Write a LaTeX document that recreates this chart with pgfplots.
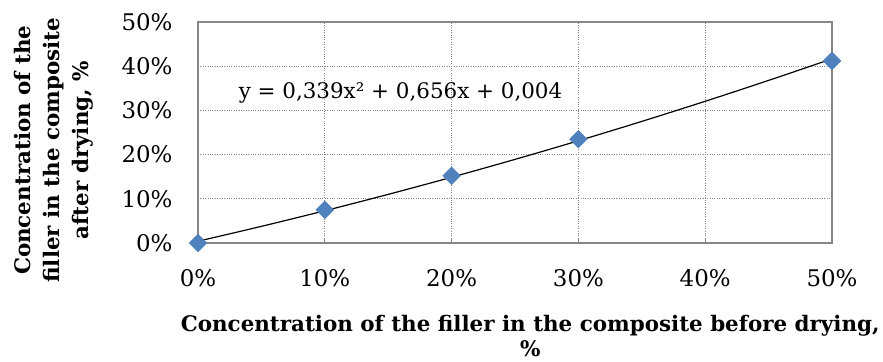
\documentclass[border=0pt]{standalone}
\usepackage{pgfplots}
\pgfplotsset{compat=1.18}
\usepackage{fontspec}
\setmainfont{DejaVu Serif}
\definecolor{mblue}{HTML}{4F81BD}
\definecolor{agray}{HTML}{868686}
\begin{document}
\begin{tikzpicture}
\useasboundingbox (-198bp,-119bp) rectangle (685bp,243bp);
\begin{axis}[
  at={(0,0)}, anchor=south west,
  scale only axis, width=634bp, height=221bp,
  xmin=0, xmax=50, ymin=0, ymax=50,
  xtick={0,10,20,30,40,50}, ytick={0,10,20,30,40,50},
  xticklabel={\pgfmathprintnumber{\tick}\%},
  yticklabel={\pgfmathprintnumber{\tick}\%},
  /pgf/number format/assume math mode=true,
  tick label style={font=\fontsize{23}{27}\selectfont},
  yticklabel style={xshift=-22bp},
  xticklabel style={yshift=-23bp},
  grid=major,
  major grid style={agray, dotted, line width=0.9pt},
  axis line style={agray, line width=1.2pt},
  tick style={agray, line width=1.2pt},
  ytick style={draw=none},
  xtick pos=bottom, ytick pos=left,
  tick align=inside,
  major tick length=5bp,
  xlabel={Concentration of the filler in the composite before drying,\\\%},
  ylabel={Concentration of the\\filler in the composite\\after drying, \%},
  xlabel style={at={(axis description cs:0.524,-0.42)}, anchor=center, align=center, font=\fontsize{21.5}{24.5}\selectfont\bfseries},
  ylabel style={at={(axis description cs:-0.227,0.42)}, anchor=center, align=center, rotate=0, font=\fontsize{21.5}{29}\selectfont\bfseries},
  clip=false,
]
\addplot[only marks, mark=square*, mark size=6.3bp, mark options={rotate=45, fill=mblue, draw=mblue}]
  coordinates {(0,0) (10,7.5) (20,15.2) (30,23.5) (50,41.2)};
\addplot[black, line width=1.2pt, smooth]
  coordinates {(0,0.40) (5,3.765) (10,7.299) (15,11.003) (20,14.876) (25,18.919) (30,23.131) (35,27.513) (40,32.064) (45,36.785) (50,41.675)};
\node[anchor=west, font=\fontsize{21.5}{24}\selectfont, inner sep=0pt] at (axis cs:3.2,33.9) {y = 0,339x² + 0,656x + 0,004};
\end{axis}
\end{tikzpicture}
\end{document}
